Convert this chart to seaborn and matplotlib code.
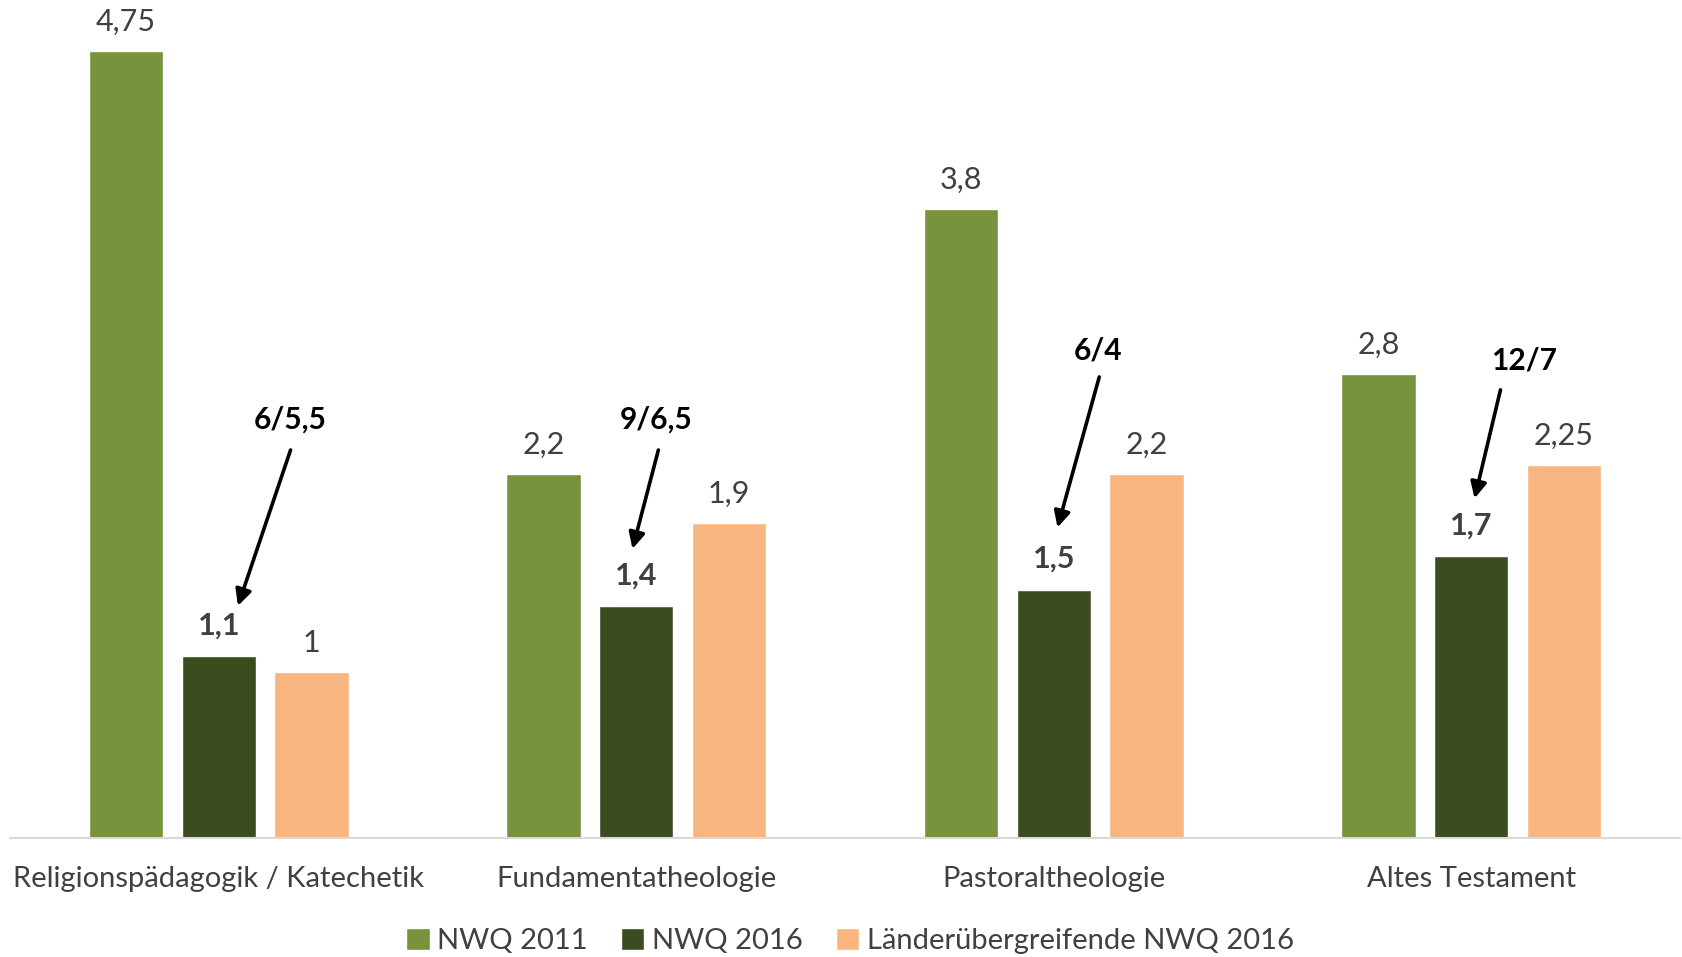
import numpy as np
import pandas as pd
import matplotlib
matplotlib.use("Agg")
import matplotlib.pyplot as plt
import seaborn as sns

# data
faecher = ["Religionspädagogik / Katechetik", "Fundamentatheologie",
           "Pastoraltheologie", "Altes Testament"]
serien = ["NWQ 2011", "NWQ 2016", "Länderübergreifende NWQ 2016"]
nwq2011 = [4.75, 2.2, 3.8, 2.8]
nwq2016 = [1.1, 1.4, 1.5, 1.7]
nwq2016_lu = [1.0, 1.9, 2.2, 2.25]
verhaeltnis = ["6/5,5", "9/6,5", "6/4", "12/7"]

farben = ["#77933C", "#3B4C1F", "#F9B57F"]

df = pd.DataFrame({
    "Fach": faecher * 3,
    "Serie": [serien[0]] * 4 + [serien[1]] * 4 + [serien[2]] * 4,
    "Wert": nwq2011 + nwq2016 + nwq2016_lu,
})

sns.set_style("white")
plt.rcParams["font.family"] = ["Lato", "DejaVu Sans"]

fig = plt.figure(figsize=(16.83, 9.57), dpi=100)
ax = fig.add_axes([10 / 1683, 119 / 957, 1670 / 1683, 828 / 957])

sns.barplot(data=df, x="Fach", y="Wert", hue="Serie", order=faecher,
            hue_order=serien, palette=farben, width=0.666, gap=0.2,
            saturation=1, ax=ax, legend=True)

def fmt(v):
    return f"{v:g}".replace(".", ",")

for i, cont in enumerate(ax.containers):
    vals = [nwq2011, nwq2016, nwq2016_lu][i]
    if i == 1:
        ax.bar_label(cont, labels=[fmt(v) for v in vals], padding=12,
                     fontsize=22, fontweight="bold", color="#404040")
    else:
        ax.bar_label(cont, labels=[fmt(v) for v in vals], padding=11,
                     fontsize=22, color="#404040")

# Verhaeltnis-Annotationen mit Pfeilen
text_pos = [(0.170, 2.524), (1.048, 2.524), (2.107, 2.946), (3.127, 2.881)]
pfeile = [((0.172, 2.343), (0.046, 1.402)),
          ((1.053, 2.343), (0.991, 1.746)),
          ((2.109, 2.784), (2.009, 1.875)),
          ((3.070, 2.706), (3.008, 2.051))]
for t, (tx, ty), (start, ende) in zip(verhaeltnis, text_pos, pfeile):
    ax.text(tx, ty, t, ha="center", va="center", fontsize=21.5,
            fontweight="bold", color="black")
    ax.annotate("", xy=ende, xytext=start,
                arrowprops=dict(arrowstyle="-|>", color="black", lw=2.6,
                                mutation_scale=24, shrinkA=0, shrinkB=0))

ax.set_xlim(-0.5, 3.5)
ax.set_ylim(0, 5)
ax.set_xlabel("")
ax.set_ylabel("")
ax.set_yticks([])
ax.tick_params(axis="x", length=0, pad=20, labelsize=21, labelcolor="#404040")
for s in ["top", "right", "left"]:
    ax.spines[s].set_visible(False)
ax.spines["bottom"].set_color("#D9D9D9")
ax.spines["bottom"].set_linewidth(1.5)

ax.get_legend().remove()
handles, labels = ax.get_legend_handles_labels()
fig.legend(handles[:3], labels[:3], loc="center", bbox_to_anchor=(850 / 1683, 1 - 941 / 957),
           ncol=3, frameon=False, fontsize=21, handlelength=0.8, handleheight=0.8,
           handletextpad=0.25, columnspacing=1.15, labelcolor="#404040",
           borderpad=0)

fig.savefig("out.png", dpi=100)
